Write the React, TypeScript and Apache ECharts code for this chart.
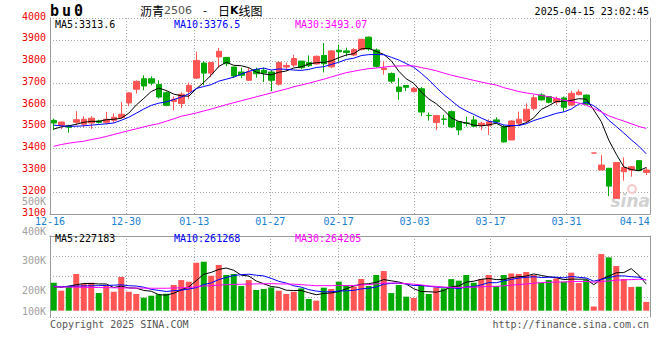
import React, { useEffect, useRef } from "react";
import * as echarts from "echarts";

// ---------- data ----------
const dates = [
  "12-16","12-17","12-18","12-19","12-20","12-23","12-24","12-25","12-26","12-27","12-30","12-31",
  "01-02","01-03","01-06","01-07","01-08","01-09","01-10","01-13","01-14","01-15","01-16","01-17",
  "01-20","01-21","01-22","01-23","01-24","01-27",
  "02-05","02-06","02-07","02-10","02-11","02-12","02-13","02-14","02-17","02-18","02-19","02-20",
  "02-21","02-24","02-25","02-26","02-27","02-28",
  "03-03","03-04","03-05","03-06","03-07","03-10","03-11","03-12","03-13","03-14","03-17","03-18",
  "03-19","03-20","03-21","03-24","03-25","03-26","03-27","03-28","03-31",
  "04-01","04-02","04-03","04-07","04-08","04-09","04-10","04-11","04-14","04-15","04-16",
];
const axisDates = ["12-16","12-30","01-13","01-27","02-17","03-03","03-17","03-31","04-14"];
const gridDates = ["12-30","01-13","01-27","02-17","03-03","03-17","03-31"];

const opens = [3530,3508,3504,3521,3512,3518,3527,3521,3530,3543,3610,3673,3721,3721,3695,3657,3617,3607,3663,3724,
  3793,3747,3821,3819,3775,3752,3714,3763,3760,3752,3696,3775,3784,3802,3795,3789,3828,3776,3852,3849,
  3830,3855,3912,3853,3763,3745,3683,3690,3662,3675,3553,3520,3536,3570,3524,3518,3532,3506,3506,3532,
  3501,3440,3517,3527,3585,3647,3639,3614,3633,3600,3648,3646,3380,3302,3310,3172,3294,3302,3345,3291];
const closes = [3518,3522,3498,3533,3535,3540,3521,3535,3544,3558,3656,3709,3688,3701,3637,3599,3627,3650,3691,3805,
  3747,3796,3847,3790,3734,3737,3753,3744,3747,3714,3796,3782,3814,3772,3781,3824,3790,3849,3845,3842,
  3855,3902,3858,3778,3770,3710,3663,3682,3677,3568,3552,3552,3535,3500,3486,3517,3503,3517,3523,3523,
  3431,3527,3535,3581,3634,3624,3613,3630,3590,3654,3660,3604,3380,3325,3228,3336,3314,3317,3299,3302];
const lows = [3485,3490,3473,3508,3500,3491,3515,3512,3519,3540,3595,3653,3668,3691,3630,3595,3576,3587,3627,3720,
  3691,3729,3772,3779,3724,3724,3711,3726,3706,3664,3689,3756,3775,3765,3775,3786,3750,3770,3800,3824,
  3825,3850,3850,3772,3740,3700,3625,3665,3658,3550,3529,3486,3509,3494,3463,3502,3500,3486,3463,3517,
  3428,3440,3509,3517,3575,3621,3608,3601,3570,3596,3645,3603,3380,3302,3182,3172,3253,3271,3299,3279];
const highs = [3538,3525,3510,3572,3549,3549,3533,3569,3562,3614,3660,3714,3737,3732,3714,3663,3640,3659,3703,3845,
  3801,3796,3863,3820,3775,3772,3772,3772,3772,3760,3801,3795,3831,3803,3828,3828,3885,3852,3878,3864,
  3862,3905,3915,3860,3800,3750,3725,3692,3683,3683,3566,3555,3555,3575,3524,3547,3550,3524,3535,3544,
  3509,3532,3570,3608,3647,3654,3642,3639,3639,3666,3672,3649,3380,3371,3310,3338,3360,3320,3345,3314];
const volumes = [239000,171000,211000,314000,228000,239000,151000,211000,162000,288000,
  162000,143000,111000,128000,140000,145000,220000,262000,248000,410000,
  419000,299000,391000,305000,314000,211000,262000,177000,186000,199000,
  171000,143000,162000,191000,100000,86000,197000,186000,248000,220000,
  205000,271000,211000,305000,339000,151000,220000,120000,109000,220000,
  143000,199000,191000,270000,257000,305000,239000,271000,305000,211000,
  305000,318000,314000,331000,305000,239000,262000,276000,248000,325000,
  236000,265000,36000,484000,456000,382000,271000,203000,205000,75000];

// moving-average values for the first days (they depend on days before the window)
const ma5Lead = [3490,3500,3505,3512];
const ma10Lead = [3508,3505,3503,3503,3505,3508,3511,3514,3518];
const ma30Lead = [3411,3419,3425,3430,3434,3442,3448,3456,3465,3474,3483,3491,3500,3508,3515,3526,3537,3549,3556,3564,
  3573,3582,3592,3602,3611,3620,3629,3638,3647];
const volMa5Lead = [205000,200000,210000,222000];
const volMa10Lead = [210000,205000,208000,210000,212000,213000,214000,216000,218000];
const volMa30Lead = [205000,203000,202000,201000,200000,199000,198000,197000,196000,195000,194000,193000,193000,192000,
  192000,192000,194000,196000,198000,205000,211000,214000,219000,222000,225000,226000,228000,229000,230000];

const priceMin = 3100;
const priceMax = 4000;
const priceStep = 100;
const volLabelMin = 100000;
const volLabelMax = 500000;
const volLabelStep = 100000;

const priceLegend = ["MA5:3313.6", "MA10:3376.5", "MA30:3493.07"];
const volumeLegend = ["MA5:227183", "MA10:261268", "MA30:264205"];

function movingAverage(values: number[], n: number, lead: number[]) {
  return values.map((_, i) => {
    if (i < n - 1) return lead[i];
    let s = 0;
    for (let k = i - n + 1; k <= i; k++) s += values[k];
    return +(s / n).toFixed(2);
  });
}

const RED = "#ff5555";
const GREEN = "#00a800";
const MONO = "'DejaVu Sans Mono', monospace";
const DOT = { color: "#a8a8a8", type: [1, 2], width: 1 };
const BORDER = { color: "#999999", width: 1 };
const MA_COLORS = ["#000000", "#0000ff", "#ff00ff"];

export default function App() {
  const ref = useRef<HTMLDivElement>(null);

  useEffect(() => {
    const chart = echarts.init(ref.current as HTMLDivElement, null, { renderer: "svg" });

    const candleData = opens.map((o, i) => {
      const item: any = { value: [o, closes[i], lows[i], highs[i]] };
      if (o === closes[i]) {
        item.itemStyle = { color: RED, color0: RED, borderColor: RED, borderColor0: RED, borderColorDoji: RED };
      }
      return item;
    });
    const volData = volumes.map((v, i) => ({
      value: v,
      itemStyle: { color: closes[i] >= opens[i] ? RED : GREEN },
    }));

    const ma5 = movingAverage(closes, 5, ma5Lead);
    const ma10 = movingAverage(closes, 10, ma10Lead);
    const ma30 = movingAverage(closes, 30, ma30Lead);
    const vma5 = movingAverage(volumes, 5, volMa5Lead);
    const vma10 = movingAverage(volumes, 10, volMa10Lead);
    const vma30 = movingAverage(volumes, 30, volMa30Lead);

    const line = (data: number[], color: string, xi: number, yi: number) => ({
      type: "line",
      data,
      xAxisIndex: xi,
      yAxisIndex: yi,
      symbol: "none",
      showSymbol: false,
      silent: true,
      z: 3,
      lineStyle: { color, width: 1 },
    });

    // volume data axis: 0 at y≈310.7, ~8550 per px; grid 236..317
    const VOL_MIN = -53900;
    const VOL_MAX = 638700;

    const legendText = (text: string, x: number, y: number, color: string) => ({
      type: "text",
      x,
      y,
      z: 100,
      style: { text, fill: color, font: `10px ${MONO}`, textAlign: "left", textVerticalAlign: "middle" },
    });

    const option: any = {
      animation: false,
      backgroundColor: "#ffffff",
      grid: [
        { left: 50, top: 18, width: 600, height: 196 },
        { left: 50, top: 236, width: 600, height: 81 },
        { left: 50, top: 201.3, width: 600, height: 119.2 },
      ],
      xAxis: [
        { type: "category", gridIndex: 0, data: dates, boundaryGap: true, show: false },
        {
          type: "category", gridIndex: 0, data: dates, boundaryGap: false, position: "bottom",
          axisLine: { show: true, lineStyle: BORDER },
          axisTick: { show: false },
          axisLabel: {
            interval: (_i: number, v: string) => axisDates.includes(v),
            color: "#1a80d0", fontFamily: MONO, fontSize: 10, margin: 2, lineHeight: 10,
          },
          splitLine: { show: true, interval: (_i: number, v: string) => gridDates.includes(v), lineStyle: DOT },
        },
        { type: "category", gridIndex: 1, data: dates, boundaryGap: true, show: false },
        {
          type: "category", gridIndex: 1, data: dates, boundaryGap: false, position: "bottom",
          axisLine: { show: true, lineStyle: BORDER },
          axisTick: { show: false },
          axisLabel: { show: false },
          splitLine: { show: true, interval: (_i: number, v: string) => gridDates.includes(v), lineStyle: DOT },
        },
        {
          type: "category", gridIndex: 1, data: dates, boundaryGap: false, position: "top",
          axisLine: { show: true, lineStyle: BORDER },
          axisTick: { show: false }, axisLabel: { show: false }, splitLine: { show: false },
        },
        { type: "value", gridIndex: 2, min: 0, max: 1, show: false },
      ],
      yAxis: [
        {
          type: "value", gridIndex: 0, min: priceMin, max: priceMax, interval: priceStep, position: "left",
          axisLine: { show: true, lineStyle: BORDER },
          axisTick: { show: false },
          axisLabel: {
            color: "#ee0000", fontFamily: MONO, fontSize: 10, margin: 4,
            verticalAlign: "bottom", lineHeight: 4,
            formatter: (v: number) => String(v),
          },
          splitLine: { show: true, lineStyle: DOT },
        },
        {
          type: "value", gridIndex: 0, min: priceMin, max: priceMax, position: "right",
          axisLine: { show: true, lineStyle: BORDER },
          axisTick: { show: false }, axisLabel: { show: false }, splitLine: { show: false },
        },
        {
          type: "value", gridIndex: 1, min: VOL_MIN, max: VOL_MAX, position: "left",
          axisLine: { show: true, lineStyle: BORDER },
          axisTick: { show: false }, axisLabel: { show: false }, splitLine: { show: false },
        },
        {
          type: "value", gridIndex: 1, min: 0, max: 4, interval: 1, inverse: true, position: "right",
          axisLine: { show: true, lineStyle: BORDER },
          axisTick: { show: false }, axisLabel: { show: false },
          splitLine: { show: true, lineStyle: DOT },
        },
        {
          type: "value", gridIndex: 2, min: volLabelMin, max: volLabelMax, interval: volLabelStep, position: "left",
          axisLine: { show: false }, axisTick: { show: false }, splitLine: { show: false },
          axisLabel: {
            color: "#a0a0a0", fontFamily: MONO, fontSize: 10, margin: 4, lineHeight: 8,
            formatter: (v: number) => (v === volLabelMin ? `{lo|${v / 1000}K}` : `${v / 1000}K`),
            rich: { lo: { padding: [0, 0, 19, 0], lineHeight: 8, color: "#a0a0a0", fontFamily: MONO, fontSize: 10 } },
          },
        },
      ],
      series: [
        {
          type: "candlestick",
          xAxisIndex: 0,
          yAxisIndex: 0,
          data: candleData,
          barWidth: 6,
          silent: true,
          itemStyle: { color: RED, color0: GREEN, borderColor: RED, borderColor0: GREEN, borderWidth: 1 },
        },
        line(ma5, MA_COLORS[0], 0, 0),
        line(ma10, MA_COLORS[1], 0, 0),
        line(ma30, MA_COLORS[2], 0, 0),
        { type: "bar", xAxisIndex: 2, yAxisIndex: 2, data: volData, barWidth: 6, silent: true },
        line(vma5, MA_COLORS[0], 2, 2),
        line(vma10, MA_COLORS[1], 2, 2),
        line(vma30, MA_COLORS[2], 2, 2),
      ],
      graphic: [
        // watermark
        {
          type: "ring", z: 1, shape: { cx: 632, cy: 189, r: 5, r0: 3 },
          style: { fill: "#f6caca" },
        },
        {
          type: "text", x: 650, y: 201, z: 1,
          style: {
            text: "sina", fill: "#d2d2d2", font: "italic bold 17px 'DejaVu Sans', sans-serif",
            textAlign: "right", textVerticalAlign: "middle",
          },
        },
        {
          type: "text", x: 50, y: 11, z: 100,
          style: {
            text: "{a|b}{a|u}{a|0}",
            textVerticalAlign: "middle",
            rich: { a: { width: 12, font: `bold 15px ${MONO}`, fill: "#000" } },
          },
        },
        {
          type: "text", x: 140, y: 10, z: 100,
          style: {
            text: "{c|沥青}{n|2506}{d| - }{c|日}{k|K}{c|线图}",
            textVerticalAlign: "middle",
            rich: {
              c: { fontFamily: "'Noto Sans CJK SC', sans-serif", fontSize: 12, fill: "#000" },
              n: { fontFamily: "'DejaVu Sans', sans-serif", fontSize: 11, fill: "#555" },
              d: { width: 26, align: "center", fontFamily: MONO, fontSize: 11, fill: "#000" },
              k: { fontFamily: "'DejaVu Sans', sans-serif", fontWeight: "bold", fontSize: 11, fill: "#000" },
            },
          },
        },
        {
          type: "text", x: 649, y: 11.5, z: 100,
          style: {
            text: "2025-04-15 23:02:45", fill: "#000", font: `10px ${MONO}`,
            textAlign: "right", textVerticalAlign: "middle",
          },
        },
        legendText(priceLegend[0], 55, 24, MA_COLORS[0]),
        legendText(priceLegend[1], 174, 24, MA_COLORS[1]),
        legendText(priceLegend[2], 295, 24, MA_COLORS[2]),
        legendText(volumeLegend[0], 55, 238.5, MA_COLORS[0]),
        legendText(volumeLegend[1], 174, 238.5, MA_COLORS[1]),
        legendText(volumeLegend[2], 295, 238.5, MA_COLORS[2]),
        {
          type: "text", x: 50, y: 324, z: 100,
          style: { text: "Copyright 2025 SINA.COM", fill: "#555", font: `10px ${MONO}`, textAlign: "left", textVerticalAlign: "middle" },
        },
        {
          type: "text", x: 649, y: 324, z: 100,
          style: { text: "http://finance.sina.com.cn", fill: "#555", font: `10px ${MONO}`, textAlign: "right", textVerticalAlign: "middle" },
        },
      ],
    };

    chart.setOption(option);
    return () => chart.dispose();
  }, []);

  return (
    <div
      ref={ref}
      style={{ position: "fixed", left: 0, top: 0, width: 660, height: 360, background: "#ffffff" }}
    />
  );
}
